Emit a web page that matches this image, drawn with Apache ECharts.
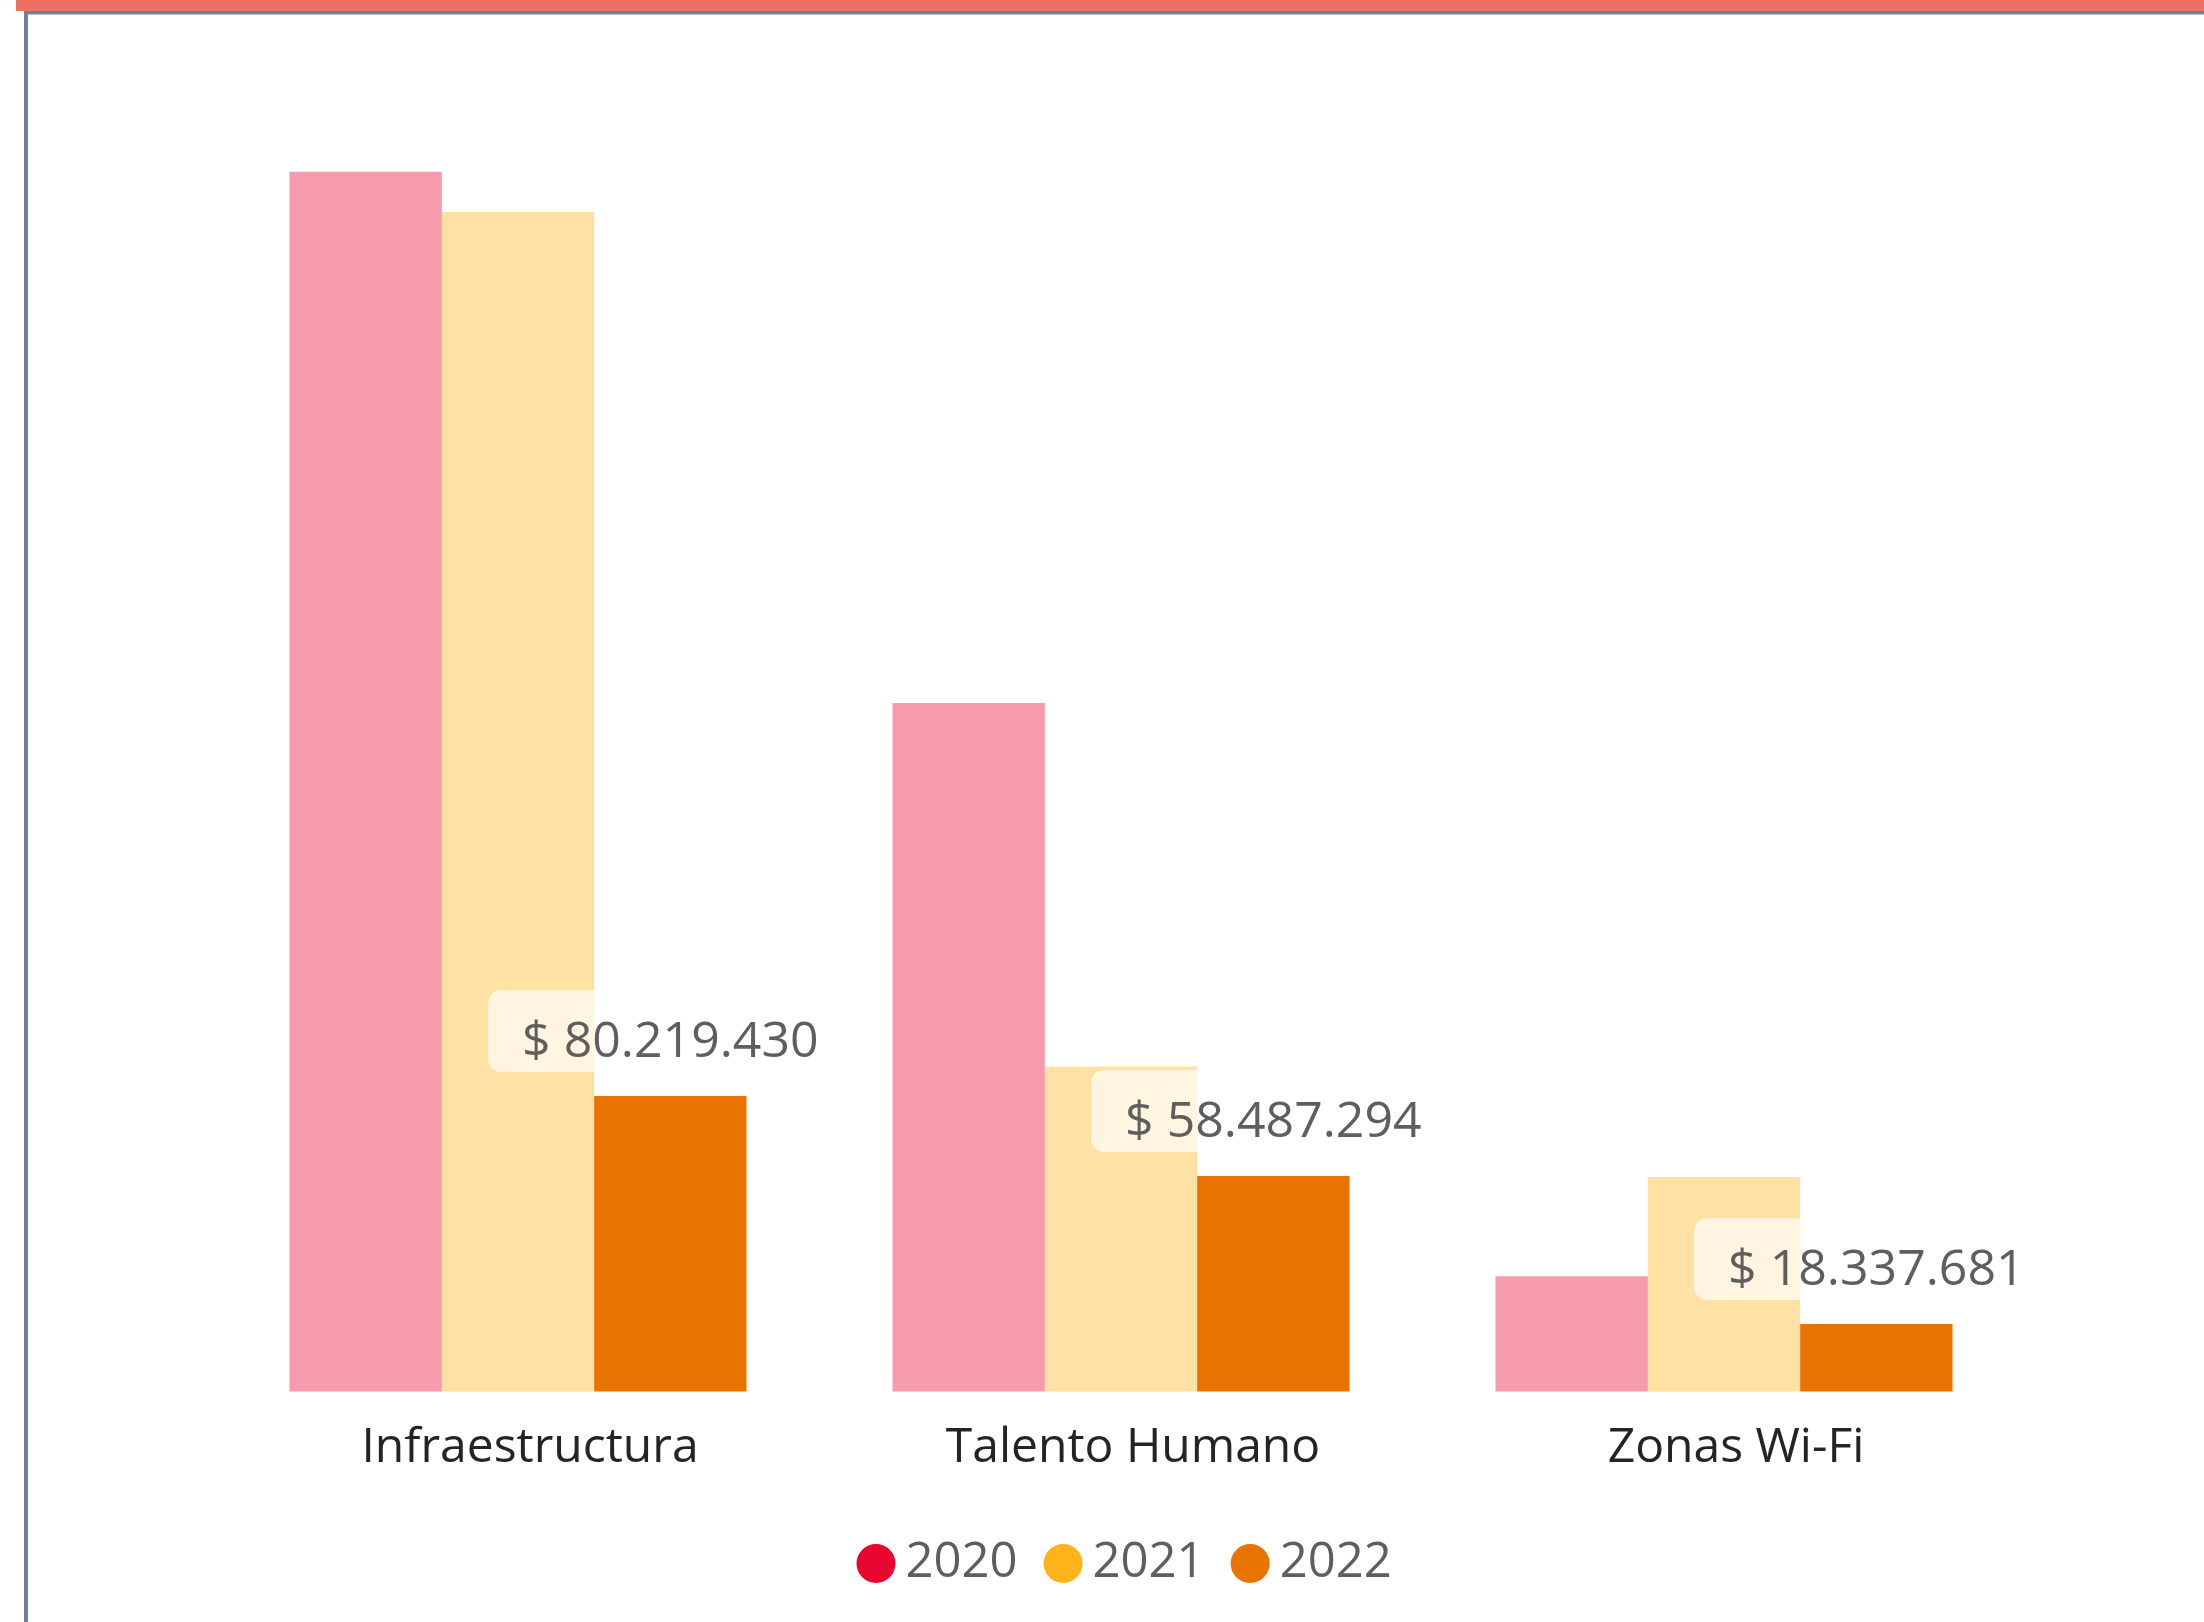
<!DOCTYPE html>
<html>
<head>
<meta charset="utf-8">
<title>Inversión por componente</title>
<script src="https://cdn.jsdelivr.net/npm/echarts@6/dist/echarts.min.js"></script>
<style>
  html, body { margin: 0; padding: 0; background: #ffffff; }
  #chart { width: 2204px; height: 1622px; }
</style>
</head>
<body>
<div id="chart"></div>
<script>
// Componentes de inversión
const categories = ['Infraestructura', 'Talento Humano', 'Zonas Wi-Fi'];
const years = ['2020', '2021', '2022'];

// Valores en pesos por año
const values2020 = [331100000, 186900000, 31300000];
const values2021 = [320200000, 88200000, 58200000];
const values2022 = [80219430, 58487294, 18337681];

const yearColors = ['#E8062F', '#FFB31A', '#E87300'];
const fadedOpacity = 0.4;

// Formato de moneda con punto como separador de miles
function pesos(v) {
  const s = Math.round(v).toString().replace(/\B(?=(\d{3})+(?!\d))/g, '.');
  return '$ ' + s;
}

const fontFamily = "'Segoe UI', 'Open Sans', sans-serif";

const chart = echarts.init(document.getElementById('chart'));

const seriesValues = [values2020, values2021, values2022];

const series = years.map((y, i) => {
  const selected = i === 2;
  return {
    name: y,
    type: 'bar',
    data: seriesValues[i],
    barGap: '0%',
    barCategoryGap: '24.2%',
    itemStyle: {
      color: yearColors[i],
      opacity: selected ? 1 : fadedOpacity
    },
    emphasis: { disabled: true },
    label: selected ? {
      show: true,
      position: 'top',
      distance: 24,
      formatter: p => pesos(p.value),
      fontFamily: fontFamily,
      fontSize: 50,
      lineHeight: 52,
      color: '#605E5C',
      backgroundColor: 'rgba(255,255,255,0.68)',
      borderRadius: 13,
      padding: [27, 34, 3, 34]
    } : { show: false },
    z: selected ? 3 : 2
  };
});

chart.setOption({
  animation: false,
  backgroundColor: '#ffffff',
  grid: {
    left: 216.5,
    right: 178.5,
    top: 65.4,
    bottom: 230.5,
    containLabel: false
  },
  xAxis: {
    type: 'category',
    data: categories,
    axisLine: { show: false },
    axisTick: { show: false },
    axisLabel: {
      fontFamily: fontFamily,
      fontSize: 48,
      lineHeight: 48,
      color: '#252423',
      margin: 33,
      padding: [0, 0, 0, 24]
    }
  },
  yAxis: {
    type: 'value',
    min: 0,
    max: 360000000,
    show: false,
    splitLine: { show: false }
  },
  legend: {
    left: 856.5,
    top: 1539,
    padding: 0,
    icon: 'circle',
    itemWidth: 39,
    itemHeight: 39,
    itemGap: 26,
    selectedMode: false,
    textStyle: {
      fontFamily: fontFamily,
      fontSize: 49,
      lineHeight: 39,
      color: '#605E5C',
      padding: [0, 0, 0, 5]
    },
    data: years.map((y, i) => ({
      name: y,
      itemStyle: { color: yearColors[i], opacity: 1 }
    }))
  },
  graphic: [
    // franja superior
    { type: 'rect', shape: { x: 16, y: 0, width: 2188, height: 11 }, style: { fill: '#EC7063' }, silent: true },
    // borde del marco
    { type: 'rect', shape: { x: 24, y: 11, width: 2180, height: 3 }, style: { fill: '#6E7F99' }, silent: true },
    { type: 'rect', shape: { x: 24, y: 14, width: 2180, height: 1 }, style: { fill: '#B9C3D3' }, silent: true },
    { type: 'rect', shape: { x: 24, y: 11, width: 4, height: 1611 }, style: { fill: '#6E7F99' }, silent: true }
  ],
  series: series
});
</script>
</body>
</html>
